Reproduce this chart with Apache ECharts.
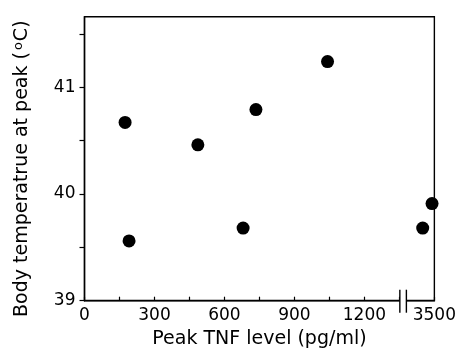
<!DOCTYPE html>
<html>
<head>
<meta charset="utf-8">
<script src="https://cdn.jsdelivr.net/npm/echarts@6/dist/echarts.min.js"></script>
<style>
  html, body { margin: 0; padding: 0; background: #fff; }
  #chart { width: 459px; height: 355px; }
</style>
</head>
<body>
<div id="chart"></div>
<script>
// peak TNF (pg/ml) and body temperature at peak (°C)
const tnfLevels = [174, 486, 735, 1042, 191, 680, 3450, 3490]
const bodyTemps = [40.67, 40.46, 40.79, 41.24, 39.56, 39.68, 39.68, 39.91]
const xLabelValues = [0, 300, 600, 900, 1200]
const breakLabel = '3500'
const yLabelValues = [39, 40, 41]

// values past the axis break are drawn shifted back by this much
const BREAK_SHIFT = 2000
const AXIS_END = 1500
const BREAK_FROM = 1352
const BREAK_TO = 1380

function toAxisX(v) {
  return v > BREAK_TO ? v - BREAK_SHIFT : v
}

const font = 'DejaVu Sans'
const chart = echarts.init(document.getElementById('chart'))

chart.setOption({
  backgroundColor: '#fff',
  animation: false,
  grid: {
    left: 84.5, right: 21.5, top: 16.7, bottom: 54.3,
    show: true, borderColor: '#000', borderWidth: 1.4, backgroundColor: 'transparent'
  },
  xAxis: {
    type: 'value',
    min: 0,
    max: AXIS_END,
    interval: 150,
    name: 'Peak TNF level (pg/ml)',
    nameLocation: 'middle',
    nameGap: 29,
    nameTextStyle: { fontFamily: font, fontSize: 19, color: '#000' },
    axisLine: { lineStyle: { color: '#000', width: 1.4 } },
    axisTick: { inside: true, length: 4, lineStyle: { color: '#000', width: 1.2 } },
    axisLabel: {
      margin: 6,
      fontFamily: font, fontSize: 17, color: '#000',
      showMinLabel: true, showMaxLabel: true,
      formatter: v => {
        if (v === AXIS_END) return breakLabel
        return xLabelValues.includes(v) ? String(v) : ''
      }
    },
    splitLine: { show: false }
  },
  yAxis: {
    type: 'value',
    min: 39,
    max: 41.66,
    interval: 0.5,
    name: '{a|Body temperatrue at peak (}{s|o}{a|C)}',
    nameLocation: 'middle',
    nameGap: 52,
    nameTextStyle: {
      padding: [0, 20, 0, 0],
      rich: {
        a: { fontFamily: font, fontSize: 19, color: '#000' },
        s: { fontFamily: font, fontSize: 13, color: '#000', verticalAlign: 'top', padding: [0, 1, 7, 2] }
      }
    },
    axisLine: { lineStyle: { color: '#000', width: 1.4 } },
    axisTick: { length: 5, lineStyle: { color: '#000', width: 1.2 } },
    axisLabel: {
      margin: 9,
      fontFamily: font, fontSize: 17, color: '#000',
      showMaxLabel: false,
      formatter: v => yLabelValues.includes(v) ? String(v) : ''
    },
    splitLine: { show: false }
  },
  series: [{
    type: 'scatter',
    symbol: 'circle',
    symbolSize: 13,
    itemStyle: { color: '#000', opacity: 1 },
    data: tnfLevels.map((t, i) => [toAxisX(t), bodyTemps[i]])
  }]
})

// the "||" break on the x axis
const x0 = chart.convertToPixel({ xAxisIndex: 0 }, BREAK_FROM)
const x1 = chart.convertToPixel({ xAxisIndex: 0 }, BREAK_TO)
const yAxisPix = chart.convertToPixel({ yAxisIndex: 0 }, 39)
chart.setOption({
  graphic: [
    { type: 'rect', z: 100, shape: { x: x0, y: yAxisPix - 6, width: x1 - x0, height: 10 }, style: { fill: '#fff' } },
    { type: 'line', z: 101, shape: { x1: x0, y1: yAxisPix - 11, x2: x0, y2: yAxisPix + 12 }, style: { stroke: '#000', lineWidth: 1.4 } },
    { type: 'line', z: 101, shape: { x1: x1, y1: yAxisPix - 11, x2: x1, y2: yAxisPix + 12 }, style: { stroke: '#000', lineWidth: 1.4 } }
  ]
})
</script>
</body>
</html>
